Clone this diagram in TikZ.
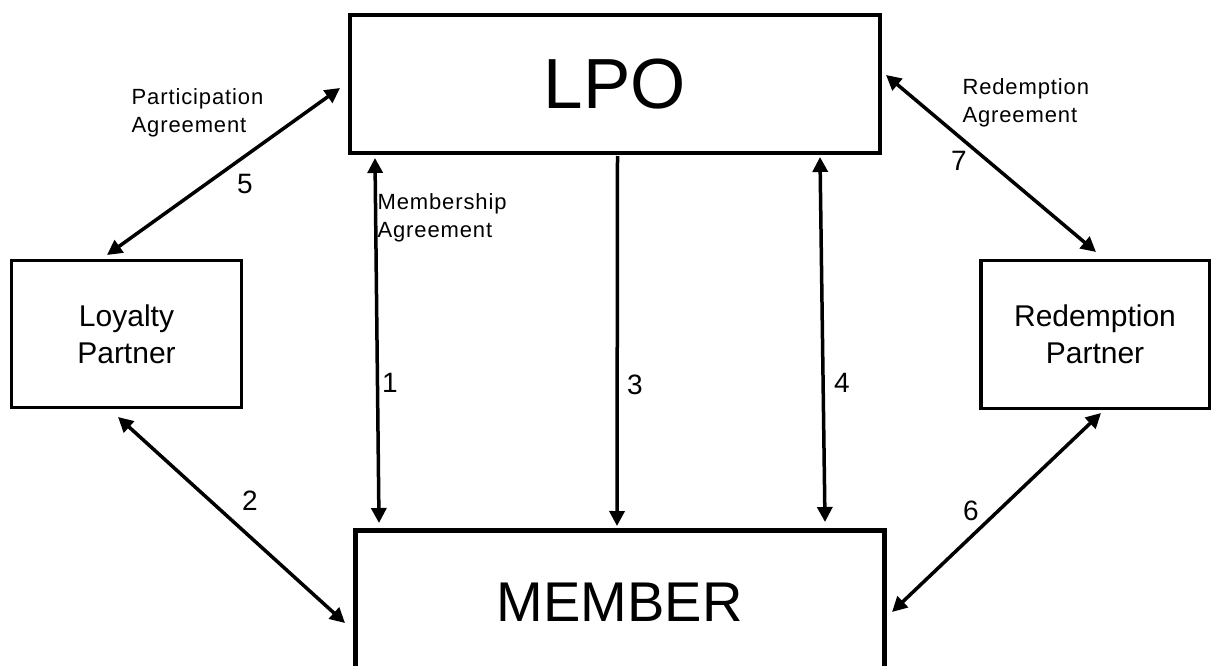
\documentclass[tikz,border=0pt]{standalone}
\usepackage{fontspec}
\setmainfont{Liberation Sans}
\usetikzlibrary{arrows.meta,calc}
\begin{document}
\begin{tikzpicture}[x=1pt,y=-1pt,
  box/.style={draw,rectangle,inner sep=0pt,outer sep=0pt,align=center},
  conn/.style={line width=3.5pt,{Triangle[length=15pt,width=15pt]}-{Triangle[length=15pt,width=15pt]}},
  connone/.style={line width=3.5pt,-{Triangle[length=15pt,width=15pt]}},
  lbl/.style={inner sep=0pt,align=left,anchor=west,font=\fontsize{22}{28}\selectfont\addfontfeature{LetterSpace=4}},
  num/.style={inner sep=0pt,font=\fontsize{28}{32}\selectfont}]
\useasboundingbox (0,0) rectangle (1212,666);
\clip (0,0) rectangle (1212,666);
\fill[white] (0,0) rectangle (1212,666);
% boxes
\node[box,line width=4.5pt,minimum width=530pt,minimum height=138pt,font=\fontsize{71}{80}\selectfont] (lpo) at (615,84) {LPO};
\node[box,line width=3.5pt,minimum width=230pt,minimum height=147pt,font=\fontsize{30}{37}\selectfont] (lp) at (126.5,334) {Loyalty\\Partner};
\node[box,line width=3.5pt,minimum width=228.5pt,minimum height=148pt,font=\fontsize{30}{37}\selectfont] (rp) at (1095,334.5) {Redemption\\Partner};
\node[box,line width=5pt,minimum width=529.5pt,minimum height=143pt,font=\fontsize{56}{64}\selectfont] (mem) at (619.75,602) {MEMBER};
% connectors
\draw[conn] ($(lp.north)+(-19.5,-5.5)$) -- ($(lpo.west)+(-10,4)$);
\draw[conn] ($(lpo.east)+(6,-9)$) -- ($(rp.north)+(1,-8.5)$);
\draw[conn] ($(lp.south)+(-8.5,9.5)$) -- ($(mem.west)+(-10,21)$);
\draw[conn] ($(mem.east)+(7.5,10)$) -- ($(rp.south)+(6,4.5)$);
\draw[conn] ($(lpo.south west)+(25,5)$) -- ($(mem.north west)+(24,-7.5)$);
\draw[connone] ($(lpo.south)+(2.5,3)$) -- ($(mem.north)+(-2.75,-4.5)$);
\draw[conn] ($(lpo.south east)+(-60,4)$) -- ($(mem.north east)+(-59.5,-8.5)$);
% labels
\node[lbl] (pa) at (131.5,112.4) {Participation\\Agreement};
\node[lbl] (ra) at (962.3,103) {Redemption\\Agreement};
\node[lbl] (ma) at (377.4,218) {Membership\\Agreement};
% numbers
\node[num] (n5) at (245,184) {5};
\node[num] (n7) at (959,161) {7};
\node[num] (n1) at (390,383) {1};
\node[num] (n3) at (635,385) {3};
\node[num] (n4) at (842,383) {4};
\node[num] (n2) at (250,501) {2};
\node[num] (n6) at (971,511) {6};
\end{tikzpicture}
\end{document}
